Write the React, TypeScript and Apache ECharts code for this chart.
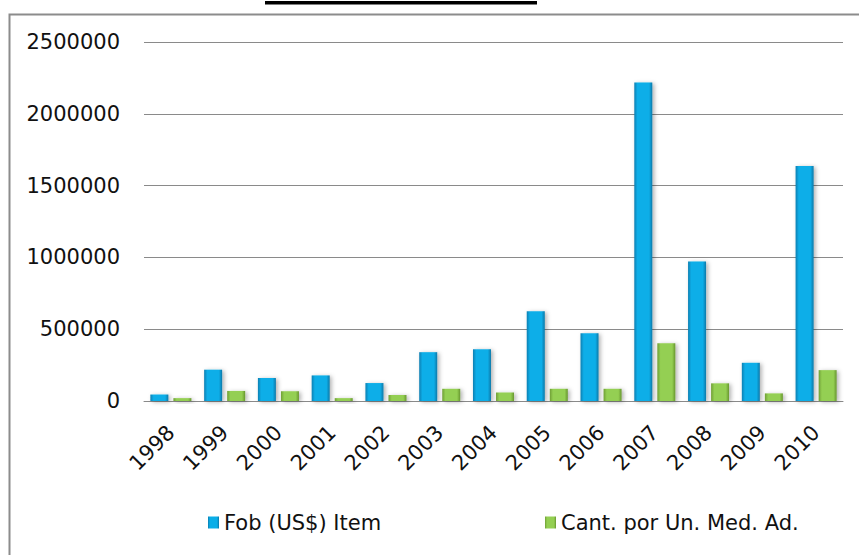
import React, { useEffect, useRef } from "react";
import * as echarts from "echarts";

const years = ["1998", "1999", "2000", "2001", "2002", "2003", "2004", "2005", "2006", "2007", "2008", "2009", "2010"];
const fobValues = [45000, 218000, 160000, 178000, 125000, 340000, 361000, 625000, 472000, 2218000, 972000, 266000, 1637000];
const cantValues = [20000, 70000, 68000, 20000, 42000, 85000, 60000, 85000, 85000, 403000, 123000, 53000, 215000];
const seriesNames = ["Fob (US$) Item", "Cant. por Un. Med. Ad."];
const yTicks = { min: 0, max: 2500000, interval: 500000 };

const FONT = "DejaVu Sans";

export default function App() {
  const ref = useRef<HTMLDivElement>(null);
  useEffect(() => {
    if (!ref.current) return;
    const chart = echarts.init(ref.current, null, { renderer: "svg" });
    const blueGrad = new echarts.graphic.LinearGradient(0, 0, 1, 0, [
      { offset: 0, color: "#0a7fb2" },
      { offset: 0.18, color: "#0aaee8" },
      { offset: 0.82, color: "#0aaee8" },
      { offset: 1, color: "#0878a8" },
    ]);
    const greenGrad = new echarts.graphic.LinearGradient(0, 0, 1, 0, [
      { offset: 0, color: "#6f9e35" },
      { offset: 0.18, color: "#94cf52" },
      { offset: 0.82, color: "#94cf52" },
      { offset: 1, color: "#67962f" },
    ]);
    const barShadow = {
      shadowColor: "rgba(0,0,0,0.3)",
      shadowBlur: 4,
      shadowOffsetX: 2,
      shadowOffsetY: 1,
    };
    chart.setOption({
      animation: false,
      backgroundColor: "#ffffff",
      grid: { left: 144, right: 16, top: 42, bottom: 154 },
      legend: [
        {
          data: [seriesNames[0]],
          left: 203,
          top: 507,
          icon: "rect",
          itemWidth: 11,
          itemHeight: 12,
          itemGap: 5,
          textStyle: { fontFamily: FONT, fontSize: 21, color: "#111" },
        },
        {
          data: [seriesNames[1]],
          left: 540,
          top: 507,
          icon: "rect",
          itemWidth: 11,
          itemHeight: 12,
          itemGap: 5,
          textStyle: { fontFamily: FONT, fontSize: 21, color: "#111" },
        },
      ],
      xAxis: {
        type: "category",
        data: years,
        axisTick: { show: false },
        axisLine: { lineStyle: { color: "#8a8a8a", width: 1 } },
        axisLabel: {
          rotate: 45,
          margin: 28,
          interval: 0,
          fontFamily: FONT,
          fontSize: 21,
          color: "#111",
        },
      },
      yAxis: {
        type: "value",
        min: yTicks.min,
        max: yTicks.max,
        interval: yTicks.interval,
        axisLine: { show: false },
        axisTick: { show: false },
        splitLine: { lineStyle: { color: "#8a8a8a", width: 1 } },
        axisLabel: {
          margin: 24,
          fontFamily: FONT,
          fontSize: 21,
          color: "#111",
          formatter: (v: number) => String(v),
        },
      },
      series: [
        {
          name: seriesNames[0],
          type: "bar",
          data: fobValues,
          barWidth: 18,
          barGap: "28%",
          itemStyle: { color: blueGrad, ...barShadow },
        },
        {
          name: seriesNames[1],
          type: "bar",
          data: cantValues,
          barWidth: 18,
          itemStyle: { color: greenGrad, ...barShadow },
        },
      ],
      graphic: [
        {
          type: "rect",
          left: 7,
          top: 12,
          shape: { x: 0, y: 0, width: 900, height: 600 },
          style: { fill: "none", stroke: "#8c8c8c", lineWidth: 2 },
          silent: true,
        },
        {
          type: "rect",
          shape: { x: 265, y: 1, width: 272, height: 3.5 },
          style: { fill: "#000" },
          silent: true,
        },
      ],
    });
    return () => chart.dispose();
  }, []);
  return (
    <div
      ref={ref}
      style={{ position: "fixed", left: 0, top: 0, width: 859, height: 555 }}
    />
  );
}
